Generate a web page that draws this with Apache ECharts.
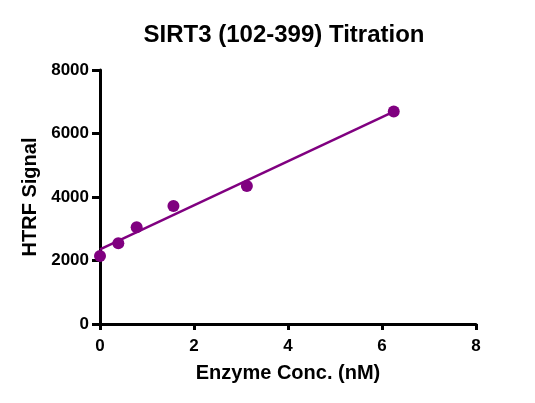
<!DOCTYPE html>
<html>
<head>
<meta charset="utf-8">
<script src="https://cdn.jsdelivr.net/npm/echarts@6/dist/echarts.min.js"></script>
<style>
html,body{margin:0;padding:0;background:#fff;}
#c{width:535px;height:403px;}
</style>
</head>
<body>
<div id="c"></div>
<script>
var titleText = "SIRT3 (102-399) Titration";
var xName = "Enzyme Conc. (nM)";
var yName = "HTRF Signal";
var concX = [0, 0.39, 0.78, 1.5625, 3.125, 6.25];
var signalY = [2140, 2545, 3045, 3715, 4345, 6690];
var fitX = [0, 6.25];
var fitY = [2350, 6690];
var xTicks = [0, 2, 4, 6, 8];
var yTicks = [0, 2000, 4000, 6000, 8000];

var pts = concX.map(function(x, i){ return [x, signalY[i]]; });
var fit = fitX.map(function(x, i){ return [x, fitY[i]]; });
var purple = '#800080';
var font = 'Liberation Sans, Arial, sans-serif';

var chart = echarts.init(document.getElementById('c'));
chart.setOption({
  animation: false,
  backgroundColor: '#fff',
  title: {
    text: titleText, left: 279, top: 18, textAlign: 'center',
    textStyle: {fontFamily: font, fontWeight: 'bold', fontSize: 24, color: '#000'}
  },
  grid: {left: 100, right: 59, top: 70, bottom: 79, containLabel: false},
  xAxis: {
    type: 'value', min: xTicks[0], max: xTicks[xTicks.length-1], interval: 2,
    name: xName, nameLocation: 'middle', nameGap: 39,
    nameTextStyle: {fontFamily: font, fontWeight: 'bold', fontSize: 20, color: '#000'},
    axisLine: {show: true, onZero: false, lineStyle: {color: '#000', width: 3}},
    axisTick: {show: true, length: 6, lineStyle: {color: '#000', width: 3}},
    axisLabel: {fontFamily: font, fontWeight: 'bold', fontSize: 17, color: '#000', margin: 14,
      formatter: function(v){ return String(v); }},
    splitLine: {show: false}
  },
  yAxis: {
    type: 'value', min: yTicks[0], max: yTicks[yTicks.length-1], interval: 2000,
    name: yName, nameLocation: 'middle', nameGap: 58, nameRotate: 90,
    nameTextStyle: {fontFamily: font, fontWeight: 'bold', fontSize: 20, color: '#000'},
    axisLine: {show: true, onZero: false, lineStyle: {color: '#000', width: 3}},
    axisTick: {show: true, length: 8, lineStyle: {color: '#000', width: 3}},
    axisLabel: {fontFamily: font, fontWeight: 'bold', fontSize: 17, color: '#000', margin: 11,
      formatter: function(v){ return String(v); }},
    splitLine: {show: false}
  },
  series: [
    {
      type: 'line', data: fit, symbol: 'none', z: 2,
      lineStyle: {color: purple, width: 2.5}
    },
    {
      type: 'scatter', data: pts, symbol: 'circle', symbolSize: 12, z: 3,
      itemStyle: {color: purple, opacity: 1}
    }
  ]
});
</script>
</body>
</html>
